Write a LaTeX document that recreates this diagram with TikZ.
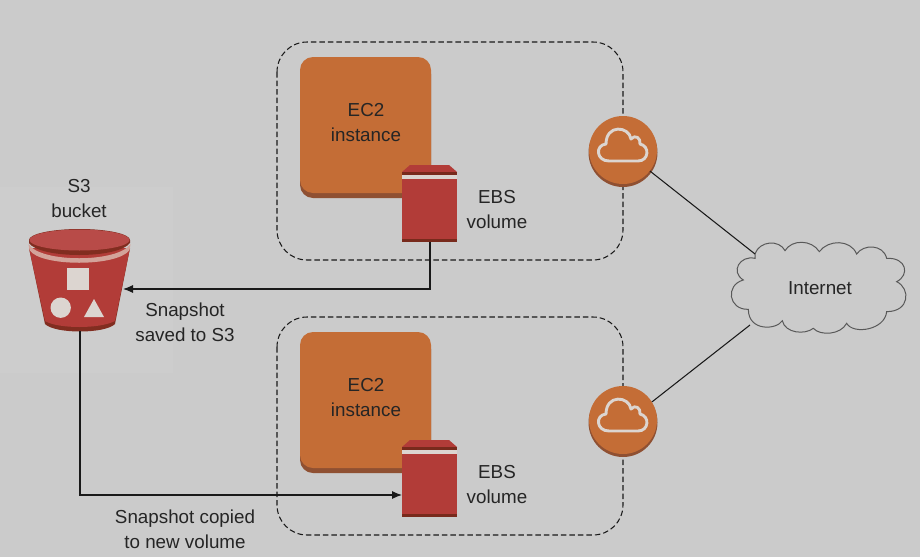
\documentclass[tikz,border=0pt]{standalone}
\usepackage{fontspec}
\setmainfont{Liberation Sans}
\usetikzlibrary{arrows.meta}
\definecolor{bgc}{HTML}{CBCBCB}
\definecolor{panelc}{HTML}{CDCDCD}
\definecolor{orangec}{HTML}{C46D36}
\definecolor{orangedk}{HTML}{8F5032}
\definecolor{redc}{HTML}{B23C38}
\definecolor{reddk}{HTML}{782A1C}
\definecolor{lightc}{HTML}{DCD5D0}
\definecolor{bandc}{HTML}{D3A39A}
\definecolor{txtc}{HTML}{252525}
\tikzset{
  label/.style={font=\fontsize{18.8}{24.8}\selectfont, text=txtc, align=center, inner sep=0pt},
  zone/.style={draw=black!90, dash pattern=on 5.5pt off 3pt, line width=1.05pt, rounded corners=30pt},
  link/.style={draw=black!90, line width=1.05pt},
  arrowlink/.style={link, -{Latex[length=10pt,width=8pt]}},
  gateway/.style={circle, minimum size=68pt, inner sep=0pt, fill=orangec},
  anchorbox/.style={inner sep=0pt, minimum width=0pt, minimum height=0pt},
}
\newcommand{\ecbox}[2]{%
  \fill[orangedk, rounded corners=13pt] (300,#1+4) rectangle (431,#1+141);
  \fill[orangec, rounded corners=13pt] (300,#1) rectangle (431,#1+136);
  \node[label] (#2) at (366,#1+65.5) {EC2\\instance};
}
\newcommand{\ebsvol}[2]{%
  \fill[redc] (402,#1+7) -- (410,#1) -- (449,#1) -- (457,#1+7) -- cycle;
  \fill[reddk] (402,#1+7) rectangle (457,#1+10);
  \fill[lightc] (402,#1+10) rectangle (457,#1+14);
  \fill[redc] (402,#1+14) rectangle (457,#1+74);
  \fill[reddk] (402,#1+74) rectangle (457,#1+77);
  \node[anchorbox] (#2) at (429.5,#1+38) [minimum width=55pt, minimum height=77pt] {};
}
\newcommand{\gatewayicon}[2]{%
  \fill[orangedk] (623,#1+2.5) circle (34.5);
  \node[gateway] (#2) at (623,#1) {};
  \begin{scope}[shift={(623pt,-#1pt)}, x=1pt, y=-1pt]
    \draw[lightc, line width=2.9pt, line join=round]
      (-14,11) .. controls (-27,11) and (-28,-5) .. (-17,-6)
      .. controls (-17,-26) and (6,-24) .. (8,-11)
      .. controls (12,-16) and (18,-12) .. (17,-6)
      .. controls (27,-4) and (26,11) .. (15,11) -- cycle;
  \end{scope}
}
\begin{document}
\begin{tikzpicture}[x=1pt, y=-1pt]
\useasboundingbox (0,0) rectangle (920,557);
\fill[bgc] (0,0) rectangle (920,557);
\fill[panelc] (0,187) rectangle (173,373);

% dashed zones
\draw[zone] (277,42) rectangle (623,260);
\draw[zone] (277,317) rectangle (623,535);

% EC2
\ecbox{57}{ecA}
\ecbox{332}{ecB}

% gateways
\gatewayicon{150}{gwA}
\gatewayicon{420}{gwB}

% cloud
\begin{scope}[shift={(720pt,-230pt)}, x=.3333pt, y=-.3333pt]
  \draw[fill=bgc, draw=black!65, line width=1pt]
    (105,72) .. controls (118,32) and (178,28) .. (195,62)
    .. controls (215,28) and (275,28) .. (298,65)
    .. controls (325,28) and (392,28) .. (410,72)
    .. controls (430,42) and (490,42) .. (500,85)
    .. controls (560,82) and (570,135) .. (530,155)
    .. controls (572,175) and (570,245) .. (500,245)
    .. controls (495,300) and (400,315) .. (380,280)
    .. controls (362,315) and (300,318) .. (280,295)
    .. controls (255,315) and (195,310) .. (187,272)
    .. controls (170,300) and (85,305) .. (85,238)
    .. controls (25,240) and (15,165) .. (70,150)
    .. controls (30,125) and (60,75) .. (105,85)
    -- cycle;
\end{scope}
\node[label] (net) at (820,288) {Internet};
\coordinate (cloudA) at (755,254);
\coordinate (cloudB) at (750,325);

% bucket
\fill[reddk!85!redc] (29,248) -- (130,248) -- (115,324) .. controls (105,334) and (55,334) .. (45,324) -- cycle;
\fill[redc] (29,248) -- (130,248) -- (115,321) .. controls (100,329) and (58,329) .. (45,321) -- cycle;
\fill[bandc] (28.5,244) .. controls (40,263) and (118,263) .. (130.5,244) -- (129.5,250) .. controls (118,267) and (40,267) .. (29.5,250) -- cycle;
\fill[reddk!85!redc] (79.5,240) ellipse (50.5 and 11);
\fill[reddk!85!redc] (29,240) -- (130,240) -- (130,243) .. controls (118,259) and (40,259) .. (29,243) -- cycle;
\fill[redc!92!white] (79.5,240) ellipse (50 and 10.5);
\node[anchorbox, minimum width=100pt, minimum height=100pt] (bucket) at (79.5,281) {};
\fill[lightc] (67,268) rectangle (89,290);
\fill[lightc] (60.7,307.7) circle (10.2);
\fill[lightc] (84,317) -- (104,317) -- (94,299) -- cycle;
\node[label] (s3) at (79,198.5) {S3\\bucket};

% volumes
\ebsvol{165}{volA}
\ebsvol{440}{volB}
\node[label] (ebsA) at (497,209.5) {EBS\\volume};
\node[label] (ebsB) at (497,484.5) {EBS\\volume};

% connectors
\draw[link] (gwA.-38) -- (cloudA);
\draw[link] (gwB.32) -- (cloudB);
\coordinate (volAout) at (430,242);
\coordinate (bucketIn) at (123,289);
\coordinate (bucketOut) at (80,331);
\coordinate (volBin) at (402,495);
\draw[arrowlink] (volAout) |- (bucketIn);
\draw[arrowlink] (bucketOut) |- (volBin);

\node[label] (snapA) at (185,322) {Snapshot\\saved to S3};
\node[label] (snapB) at (185,529) {Snapshot copied\\to new volume};
\end{tikzpicture}
\end{document}
